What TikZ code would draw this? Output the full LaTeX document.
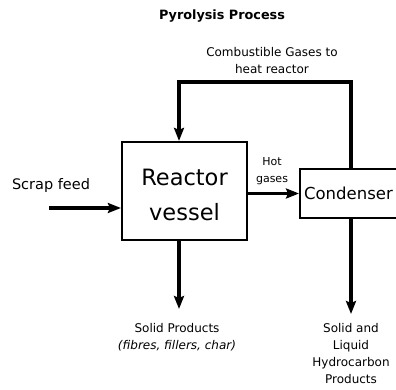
\documentclass[tikz,border=0pt]{standalone}
\usepackage{fontspec}
\setmainfont{DejaVu Sans}
\usetikzlibrary{arrows.meta}

\begin{document}
\begin{tikzpicture}[x=1pt,y=-1pt]
\tikzstyle{unit} = [rectangle, draw=black, line width=2.2pt, text centered, inner sep=4pt]
\tikzstyle{label} = [align=center, inner sep=0pt, font=\fontsize{12}{17}\selectfont]
\tikzstyle{flow} = [line width=3.2pt, -{Stealth[length=13pt,width=10pt,inset=2pt]}]
\tikzstyle{pipe} = [line width=3.2pt]

\useasboundingbox (0,0) rectangle (396,390);
\clip (0,0) rectangle (396,390);

\node (title) [label, font=\fontsize{12.8}{15}\bfseries] at (222,16) {Pyrolysis Process};
\node (reactor) [unit, minimum width=125pt, minimum height=98pt, align=center,
  font=\fontsize{22.5}{35}\selectfont] at (184.5,191) {\rule{0pt}{25pt}Reactor\\vessel};
\node (cond) [unit, anchor=west, minimum height=49pt, font=\fontsize{16.5}{20}\selectfont]
  at (299,193.5) {Condenser};

\node (comb) [label] at (272,61) {Combustible Gases to\\heat reactor};
\node (feed) [label, font=\fontsize{14.5}{17}\selectfont] at (51,185) {Scrap feed};
\node (hot) [label, font=\fontsize{11}{17}\selectfont] at (272,171.5) {Hot\\gases};
\node (solid) [label, anchor=north] at (177,323)
  {Solid Products\\\textit{(fibres, fillers, char)}};
\node (liquid) [label, anchor=north] at (351,323)
  {Solid and\\Liquid\\Hydrocarbon\\Products};

\coordinate (loopL) at (179,82);
\coordinate (loopR) at (351,82);
\coordinate (feedin) at (49,208);
\coordinate (solidend) at (179,309);
\coordinate (liquidend) at (351,314);

% recycle loop of the gases
\draw [pipe, line cap=rect] (cond.north -| loopR) -- (loopR) -- (loopL);
\draw [flow] (loopL) -- (reactor.north -| loopL);

\draw [flow] (feedin) -- (reactor.west |- feedin);
\draw [flow] (reactor.east |- cond) -- (cond.west);
\draw [flow] (reactor.south -| loopL) -- (solidend);
\draw [flow] (cond.south -| loopR) -- (liquidend);
\end{tikzpicture}
\end{document}
